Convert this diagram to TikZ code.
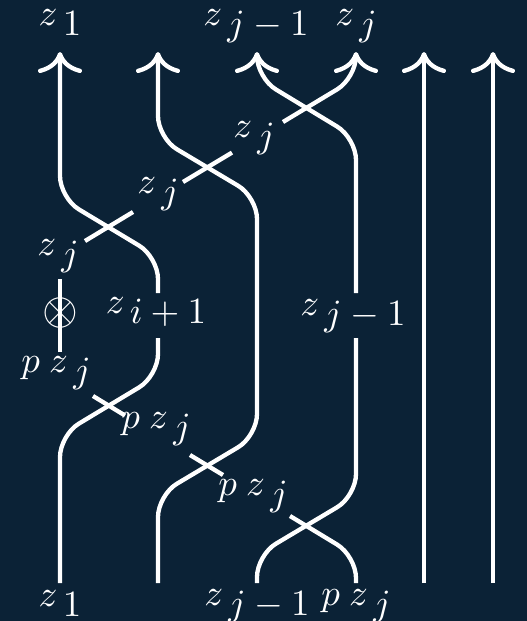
\documentclass[tikz,border=0pt]{standalone}
\usetikzlibrary{arrows.meta}
\definecolor{bg}{RGB}{11,34,54}
\newcommand{\zsub}[1]{$z$\kern1.4pt\raisebox{-2.85pt}{$#1$}}
\newcommand{\pz}[1]{$p$\kern2.5pt\zsub{#1}}
\begin{document}
\begin{tikzpicture}[x=1pt,y=-1pt,
  strand/.style={line width=4.3pt, white, rounded corners=22pt},
  seg/.style={line width=4.3pt, white},
  up/.style={-{Computer Modern Rightarrow[length=21pt,width=44pt]}},
  lbl/.style={text=white, scale=3.7, inner sep=0pt, anchor=base},
]
\fill[bg] (0,0) rectangle (527,621);
\useasboundingbox (0,0) rectangle (527,621);

% end points
\coordinate (B1) at (60,583);  \coordinate (T1) at (60,52);
\coordinate (B2) at (158,583); \coordinate (T2) at (158,52);
\coordinate (B3) at (257,583); \coordinate (T3) at (257,52);
\coordinate (B4) at (356,583); \coordinate (T4) at (356,52);
\coordinate (B5) at (424,583); \coordinate (T5) at (424,52);
\coordinate (B6) at (493,583); \coordinate (T6) at (493,52);

% labels
\node[lbl] (t1) at (60,25) {\zsub{1}};
\node[lbl] (t3) at (256,25) {\zsub{j-1}};
\node[lbl] (t4) at (356,25) {\zsub{j}};
\node[lbl] (b1) at (60,606) {\zsub{1}};
\node[lbl] (b3) at (257,605) {\zsub{j-1}};
\node[lbl] (b4) at (356,605) {\pz{j}};
\node[lbl] (m1) at (254,137) {\zsub{j}};
\node[lbl] (m2) at (158,193) {\zsub{j}};
\node[lbl] (m3) at (58,255) {\zsub{j}};
\node[lbl] (m4) at (156,313) {\zsub{i+1}};
\node[lbl] (m5) at (353,315) {\zsub{j-1}};
\node[lbl] (m6) at (56,372) {\pz{j}};
\node[lbl] (m7) at (156,428) {\pz{j}};
\node[lbl] (m8) at (253,495) {\pz{j}};
\node[text=white, scale=4.6, inner sep=0pt] (ot) at (60,312.5) {$\otimes$};

% strand 1
\draw[strand] (B1) -- (60,435) -- (158,376) -- (158,338);
\draw[strand,up] (158,293) -- (158,257) -- (60,198) -- (T1);
% strand 2
\draw[strand,up] (B2) -- (158,495) -- (257,436) -- (257,197) -- (158,138) -- (T2);
% strand 3
\draw[strand] (B3) -- (257,555) -- (356,496) -- (356,338);
\draw[strand,up] (356,293) -- (356,138) -- (257,78) -- (T3);
% strands 5, 6
\draw[strand,up] (B5) -- (T5);
\draw[strand,up] (B6) -- (T6);
% strand z_j (broken)
\draw[strand] (B4) -- (356,556) -- (290,516);
\draw[seg] (223,475) -- (190,455);
\draw[seg] (125,415.5) -- (93,396);
\draw[seg] (60,352) -- (60,279);
\draw[seg] (85,241) -- (133,212);
\draw[seg] (183,182) -- (232,152.6);
\draw[strand,up] (283,122) -- (356,78) -- (T4);
\end{tikzpicture}
\end{document}
